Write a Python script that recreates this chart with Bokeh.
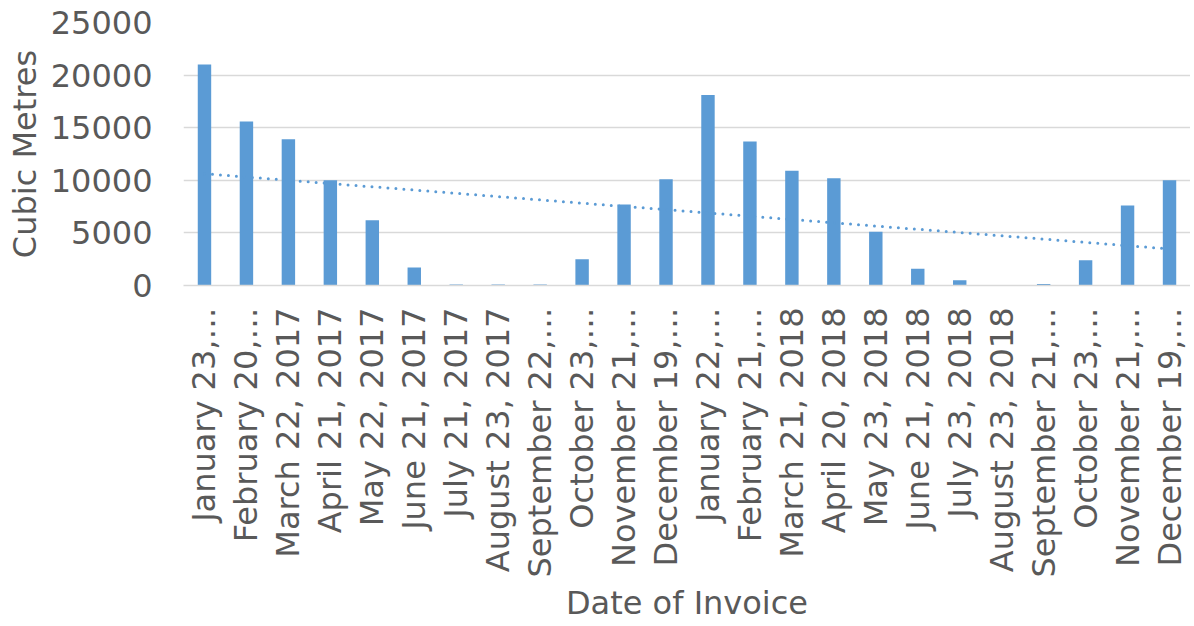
import numpy as np
from bokeh.plotting import figure
from bokeh.models import FixedTicker, Range1d
from bokeh.embed import file_html
from bokeh.resources import INLINE

invoice_dates = ["January 23, 2017", "February 20, 2017", "March 22, 2017", "April 21, 2017",
                 "May 22, 2017", "June 21, 2017", "July 21, 2017", "August 23, 2017",
                 "September 22, 2017", "October 23, 2017", "November 21, 2017", "December 19, 2017",
                 "January 22, 2018", "February 21, 2018", "March 21, 2018", "April 20, 2018",
                 "May 23, 2018", "June 21, 2018", "July 23, 2018", "August 23, 2018",
                 "September 21, 2018", "October 23, 2018", "November 21, 2018", "December 19, 2018"]
tick_labels = ["January 23,\u2026", "February 20,\u2026", "March 22, 2017", "April 21, 2017",
               "May 22, 2017", "June 21, 2017", "July 21, 2017", "August 23, 2017",
               "September 22,\u2026", "October 23,\u2026", "November 21,\u2026", "December 19,\u2026",
               "January 22,\u2026", "February 21,\u2026", "March 21, 2018", "April 20, 2018",
               "May 23, 2018", "June 21, 2018", "July 23, 2018", "August 23, 2018",
               "September 21,\u2026", "October 23,\u2026", "November 21,\u2026", "December 19,\u2026"]
cubic_metres = [21000, 15600, 13900, 10000, 6200, 1700, 100, 100, 100, 2500, 7700, 10100,
                18100, 13700, 10900, 10200, 5100, 1600, 500, 50, 150, 2400, 7600, 10000]
y_ticks = [0, 5000, 10000, 15000, 20000, 25000]

x = np.arange(1, len(cubic_metres) + 1)
slope, intercept = np.polyfit(x, np.array(cubic_metres, dtype=float), 1)
trend_x = [x[0], x[-1]]
trend_y = [slope * x[0] + intercept, slope * x[-1] + intercept]

FONT = "DejaVu Sans"
TXT = "#595959"
BLUE = "#5B9BD5"

p = figure(frame_width=1007, frame_height=263, output_backend="svg", toolbar_location=None,
           x_range=Range1d(0.5, len(cubic_metres) + 0.5), y_range=Range1d(0, 25000),
           min_border_left=183, min_border_right=0, min_border_top=22, min_border_bottom=0)
p.outline_line_color = None
p.background_fill_color = "white"

p.vbar(x=x, top=cubic_metres, width=0.32, fill_color=BLUE, line_color=None)
p.line(trend_x, trend_y, line_color=BLUE, line_width=3, line_dash="0 8", line_cap="round")

p.xgrid.grid_line_color = None
p.ygrid.grid_line_color = "#D9D9D9"
p.ygrid.grid_line_width = 1.5
p.yaxis.ticker = FixedTicker(ticks=y_ticks)
p.xaxis.ticker = FixedTicker(ticks=list(x))
p.xaxis.major_label_overrides = {int(i): lab for i, lab in zip(x, tick_labels)}
p.xaxis.major_label_orientation = np.pi / 2

for ax in (p.xaxis, p.yaxis):
    ax.major_tick_line_color = None
    ax.minor_tick_line_color = None
    ax.major_tick_out = 0
    ax.major_tick_in = 0
    ax.major_label_text_font = FONT
    ax.major_label_text_color = TXT
    ax.axis_label_text_font = FONT
    ax.axis_label_text_color = TXT
    ax.axis_label_text_font_size = "32px"
    ax.axis_label_text_font_style = "normal"

p.yaxis.major_label_text_font_size = "32px"
p.xaxis.major_label_text_font_size = "32px"
p.yaxis.axis_line_color = None
p.xaxis.axis_line_color = "#D9D9D9"
p.xaxis.axis_line_width = 1.5
p.yaxis.axis_label = "Cubic Metres"
p.xaxis.axis_label = "Date of Invoice"
p.yaxis.major_label_standoff = 31
p.yaxis.axis_label_standoff = 4
p.xaxis.major_label_standoff = 22
p.xaxis.axis_label_standoff = 4

open("out.html", "w").write(file_html(p, INLINE))
